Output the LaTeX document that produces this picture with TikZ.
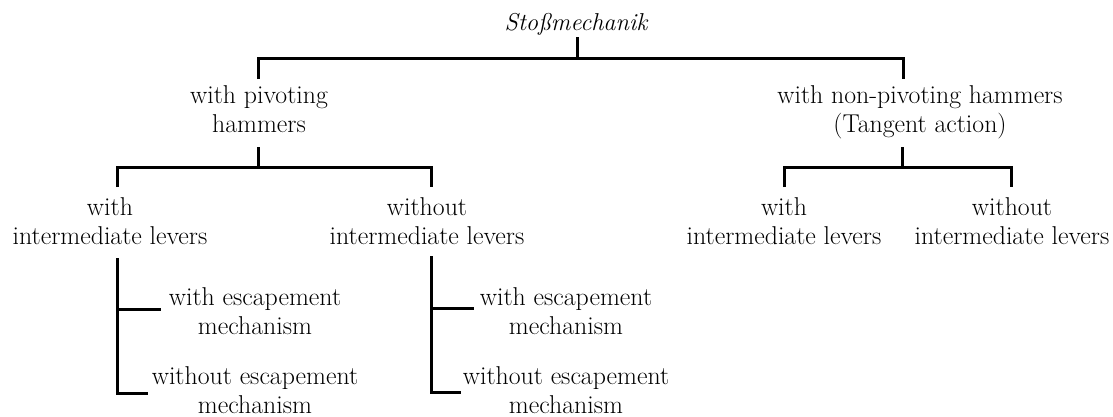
\documentclass[tikz,border=0pt]{standalone}
\usepackage{fontspec}
\newcommand{\mylines}[1]{\begin{tabular}[t]{@{}c@{}}#1\end{tabular}}
\begin{document}
\begin{tikzpicture}[x=1pt,y=-1pt,
  lab/.style={anchor=base, inner sep=0pt, font=\fontsize{25.8}{29}\selectfont},
  conn/.style={line width=3pt, line join=miter}]
\useasboundingbox (0,0) rectangle (1113,416);
% nodes
\node[lab, font=\fontsize{24.4}{29}\selectfont\itshape] (root) at (576,30) {Stoßmechanik};
\node[lab] (piv)  at (259,103) {\mylines{with pivoting\\hammers}};
\node[lab] (npiv) at (920,103) {\mylines{with non-pivoting hammers\\(Tangent action)}};
\node[lab] (wi)   at (110,215) {\mylines{with\\intermediate levers}};
\node[lab] (woi)  at (427,215) {\mylines{without\\intermediate levers}};
\node[lab] (twi)  at (784,215) {\mylines{with\\intermediate levers}};
\node[lab] (twoi) at (1012,215) {\mylines{without\\intermediate levers}};
\node[lab] (we1)  at (255,305) {\mylines{with escapement\\mechanism}};
\node[lab] (woe1) at (255,384) {\mylines{without escapement\\mechanism}};
\node[lab] (we2)  at (566,305) {\mylines{with escapement\\mechanism}};
\node[lab] (woe2) at (566,384) {\mylines{without escapement\\mechanism}};
% junction points
\coordinate (r-b) at (577,37);
\coordinate (j0) at (577,58);
\coordinate (piv-t) at (258,79);
\coordinate (npiv-t) at (903,79);
\coordinate (piv-b) at (258,147);
\coordinate (j1) at (258,167);
\coordinate (wi-t) at (117,187);
\coordinate (woi-t) at (431,187);
\coordinate (npiv-b) at (902,147);
\coordinate (j2) at (902,167);
\coordinate (twi-t) at (784,187);
\coordinate (twoi-t) at (1011,187);
\coordinate (wi-b) at (117,258);
\coordinate (woi-b) at (431,256);
\coordinate (we1-l) at (161,309);
\coordinate (woe1-l) at (148,393);
\coordinate (we2-l) at (474,308);
\coordinate (woe2-l) at (461,392);
% connectors
\draw[conn] (r-b) -- (j0);
\draw[conn] (piv-t) |- (j0) -| (npiv-t);
\draw[conn] (piv-b) -- (j1);
\draw[conn] (wi-t) |- (j1) -| (woi-t);
\draw[conn] (npiv-b) -- (j2);
\draw[conn] (twi-t) |- (j2) -| (twoi-t);
\draw[conn] (wi-b) |- (woe1-l);
\draw[conn] (wi-b |- we1-l) -- (we1-l);
\draw[conn] (woi-b) |- (woe2-l);
\draw[conn] (woi-b |- we2-l) -- (we2-l);
\end{tikzpicture}
\end{document}
